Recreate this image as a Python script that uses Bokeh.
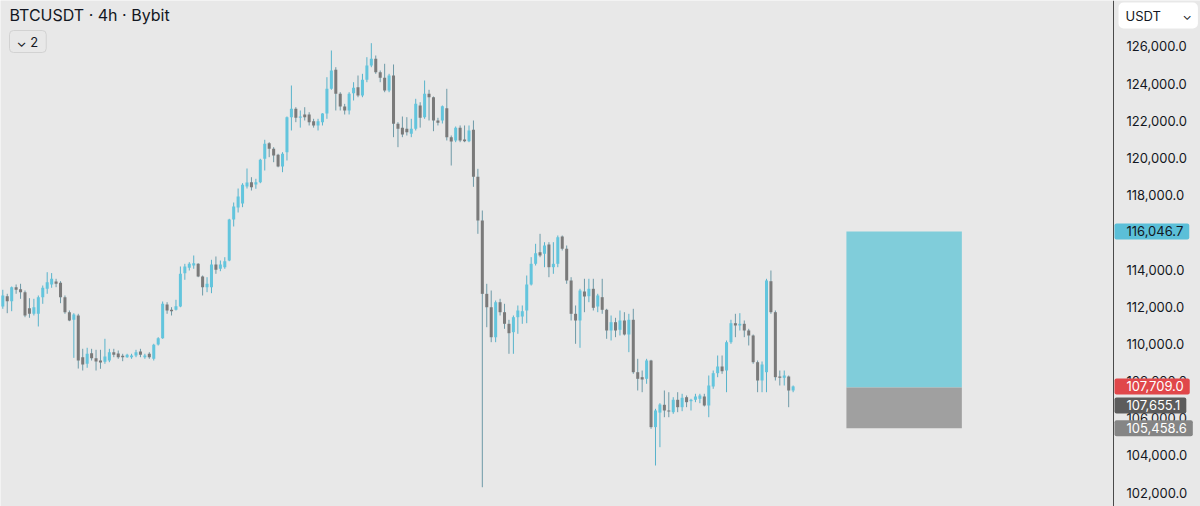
from bokeh.plotting import figure
from bokeh.models import Range1d, FixedTicker, NumeralTickFormatter, Label, ColumnDataSource, LinearAxis
from bokeh.embed import file_html
from bokeh.resources import INLINE

# ---- candle data (BTCUSDT 4h, Bybit) ----
opens = [112009, 112563, 112294, 113048, 112940, 112779, 111918, 111616, 111616, 112510,
         112962, 113193, 113354, 113284, 112510, 111703, 111293, 111525, 109281, 108926,
         109496, 109227, 109103, 109033, 109103, 109549, 109480, 109356, 109281, 109281,
         109372, 109588, 109281, 109464, 109195, 109965, 110304, 112117, 111830, 111830,
         112009, 113801, 114091, 114215, 114306, 113623, 113048, 113048, 114269, 114038,
         114124, 114484, 116691, 117336, 117551, 118466, 118698, 118574, 118698, 119957,
         120797, 120496, 120173, 119543, 120312, 122196, 122647, 122163, 122341, 122341,
         121981, 121750, 121927, 122395, 123723, 124746, 123454, 122771, 122556, 123486,
         123810, 123363, 124208, 124978, 125338, 124617, 124316, 123632, 124439, 121840,
         121625, 121571, 121302, 121571, 122825, 122196, 123454, 123271, 122018, 122018,
         122680, 121120, 120942, 121625, 120996, 120904, 121518, 118986, 116637, 112690,
         111969, 110355, 112240, 111703, 111078, 110627, 111434, 111470, 111794, 113193,
         114307, 114931, 114844, 115346, 114124, 114306, 115777, 115115, 113408, 111616,
         111256, 112816, 112564, 112961, 112009, 112510, 111832, 110718, 111165, 110756,
         111256, 110503, 111294, 108474, 108206, 108118, 109103, 105518, 106300, 106720,
         106413, 106322, 106989, 106591, 107129, 106913, 106989, 107042, 107166, 106682,
         107704, 108420, 108780, 108565, 110088, 111111, 110987, 111077, 110718, 110449,
         109012, 108027, 108474, 113370, 111703, 108242, 108172, 108242, 107489]
highs = [112908, 112693, 113085, 113193, 113231, 112870, 112456, 112423, 112601, 113139,
         113855, 113807, 113500, 113370, 112601, 111794, 111648, 111616, 109733, 109787,
         109733, 109679, 109679, 110271, 109733, 109733, 109641, 109464, 109464, 109464,
         109679, 109733, 109464, 109549, 110002, 110357, 112278, 112241, 111971, 112370,
         114162, 114306, 114393, 114754, 114339, 113677, 113586, 114522, 114700, 114484,
         114662, 116728, 117605, 118358, 118644, 119435, 118967, 118881, 119957, 120980,
         120851, 120582, 120226, 120312, 122233, 123901, 122734, 122556, 122734, 122464,
         122109, 122109, 122410, 124347, 125785, 124886, 123540, 122913, 123540, 124078,
         124439, 124530, 125424, 126178, 125516, 124708, 125069, 124530, 125032, 121927,
         122233, 122196, 122109, 123185, 123002, 124170, 123670, 123309, 122163, 122825,
         123723, 121211, 121695, 121750, 121750, 121750, 122018, 119418, 117175, 113230,
         112870, 112332, 112423, 112154, 111293, 111525, 112063, 112063, 113677, 114664,
         115383, 115920, 115470, 115470, 115470, 115830, 115830, 115292, 113586, 112063,
         112961, 113500, 113500, 113500, 112693, 113500, 111885, 111525, 111400, 111794,
         111703, 111616, 111885, 109194, 108565, 109194, 109141, 106504, 106806, 107489,
         107397, 107129, 107397, 107312, 107220, 107042, 107312, 107312, 107312, 108296,
         108565, 109372, 109372, 110180, 111294, 111616, 111650, 111256, 110809, 110503,
         109103, 109050, 113500, 113946, 111794, 108565, 108565, 108296, 107758]
lows = [111885, 111649, 111756, 112693, 112423, 111433, 111401, 111525, 110933, 112154,
        112693, 113016, 113048, 112187, 111616, 111218, 109246, 108670, 108565, 108711,
        109103, 108565, 108657, 108926, 109012, 109281, 109195, 109066, 109248, 109195,
        109281, 109281, 109195, 109195, 109103, 109911, 110271, 111616, 111525, 111794,
        111971, 113446, 113946, 114038, 113586, 112601, 112779, 112725, 113768, 113908,
        114038, 114446, 116314, 117067, 117353, 118358, 118251, 118342, 118644, 119327,
        120043, 119774, 119500, 119236, 119865, 121480, 121927, 121634, 122018, 121750,
        121634, 121480, 121750, 122109, 123670, 122556, 122556, 122341, 122341, 123094,
        123271, 123271, 124078, 124886, 124530, 124078, 123540, 123540, 121120, 120582,
        121120, 121211, 121120, 121480, 121634, 122109, 122018, 121442, 121750, 121857,
        120942, 119596, 120851, 120851, 120851, 120851, 118449, 115920, 102283, 110895,
        110088, 110088, 111525, 110808, 109464, 109464, 110540, 111078, 111110, 113139,
        114215, 114662, 114124, 113586, 113768, 114124, 115023, 113230, 111256, 110002,
        109787, 111703, 112240, 111794, 111703, 111616, 110271, 110180, 110358, 110449,
        110449, 109551, 108387, 107489, 107397, 107849, 105428, 103453, 104438, 106052,
        106052, 106235, 106322, 106376, 106591, 106413, 106860, 106806, 106628, 106052,
        107580, 108205, 108387, 107397, 110002, 110358, 110718, 110358, 109911, 108926,
        107397, 107397, 107397, 111616, 108027, 107758, 107758, 106591, 107397]
closes = [112601, 112294, 113048, 112908, 112779, 111525, 111616, 111971, 112510, 113016,
          113317, 113500, 113231, 112510, 111703, 111256, 111578, 109100, 108888, 109464,
          109227, 109049, 108995, 109318, 109549, 109410, 109281, 109281, 109410, 109373,
          109549, 109410, 109372, 109281, 109949, 110304, 112154, 111794, 111758, 112026,
          113768, 114161, 114306, 114339, 113623, 113048, 113231, 114269, 113984, 114269,
          114446, 116691, 117390, 117928, 118557, 118682, 118429, 118698, 119903, 120765,
          120496, 120135, 119543, 120226, 122196, 122647, 122163, 122233, 122196, 121927,
          121750, 121981, 122395, 123723, 124708, 123454, 122771, 122556, 123454, 123777,
          123363, 124208, 124978, 125338, 124617, 124316, 123632, 124439, 121840, 121571,
          121265, 121388, 121571, 122916, 122163, 123454, 123271, 122018, 121894, 122787,
          121120, 120888, 121625, 120942, 120904, 121480, 118986, 116637, 112690, 111969,
          110355, 112240, 111703, 111078, 110572, 111434, 111794, 111756, 113193, 114306,
          114877, 114754, 115292, 114123, 114306, 115740, 115115, 113408, 111616, 111256,
          112870, 112547, 112961, 111939, 112601, 111832, 110718, 111165, 110718, 111256,
          110503, 111294, 108474, 108118, 108081, 109103, 105518, 106413, 106736, 106413,
          106359, 106989, 106591, 107097, 106860, 106989, 107166, 107220, 106682, 107758,
          108420, 108780, 108527, 110088, 111111, 110987, 111077, 110718, 110449, 109012,
          108027, 108888, 113408, 111703, 108206, 108172, 108296, 107489, 107709]

price_ticks = [102000, 104000, 106000, 108000, 110000, 112000, 114000,
               116000, 118000, 120000, 122000, 124000, 126000]

# long position tool
tp_price = 116046.7
entry_price = 107655.1
sl_price = 105458.6
last_price = 107709.0
pos_start, pos_end = 190, 216

UP = "#63c5dd"
DOWN = "#7a7a7a"
WICK_UP = "#58b3cb"
WICK_DOWN = "#6e9aa7"
BG = "#e8e8e8"
TXT = "#131722"
FONT = "Inter"

idx = list(range(len(opens)))
up_i = [i for i in idx if closes[i] >= opens[i]]
dn_i = [i for i in idx if closes[i] < opens[i]]


def src(ids):
    return ColumnDataSource(dict(
        x=ids,
        o=[opens[i] for i in ids],
        h=[highs[i] for i in ids],
        l=[lows[i] for i in ids],
        c=[closes[i] for i in ids],
        top=[max(opens[i], closes[i]) for i in ids],
        bot=[min(opens[i], closes[i]) for i in ids],
    ))


s_up = src(up_i)
s_dn = src(dn_i)

W, H = 1200, 506
AXIS_PX = 1113                       # pixel column of the price-scale separator
X0, X1 = -0.518, 269.75              # bar-index range across the whole canvas
x_sep = X0 + (X1 - X0) * AXIS_PX / W

p = figure(width=W, height=H, output_backend="svg", toolbar_location=None,
           x_range=Range1d(X0, X1), y_range=Range1d(101247, 128475),
           x_axis_location=None, y_axis_location=None,
           min_border_left=0, min_border_right=0, min_border_top=0, min_border_bottom=0,
           background_fill_color=BG, border_fill_color=BG, outline_line_color=None)
p.grid.visible = False

# position box
p.quad(left=[pos_start], right=[pos_end], bottom=[entry_price], top=[tp_price],
       fill_color="#80cdda", line_color=None)
p.quad(left=[pos_start], right=[pos_end], bottom=[sl_price], top=[entry_price],
       fill_color="#a0a0a0", line_color=None)

# candles
p.segment(x0="x", y0="l", x1="x", y1="h", source=s_up, line_color=WICK_UP, line_width=1)
p.segment(x0="x", y0="l", x1="x", y1="h", source=s_dn, line_color=WICK_DOWN, line_width=1)
p.vbar(x="x", width=0.68, top="top", bottom="bot", source=s_up, fill_color=UP, line_color=None)
p.vbar(x="x", width=0.68, top="top", bottom="bot", source=s_dn, fill_color=DOWN, line_color=None)

# right price scale (drawn at a fixed location inside the canvas)
ax = LinearAxis(fixed_location=x_sep)
ax.ticker = FixedTicker(ticks=price_ticks)
ax.formatter = NumeralTickFormatter(format="0,0.0")
ax.major_label_text_font_size = "13px"
ax.major_label_text_font = FONT
ax.major_label_text_color = TXT
ax.axis_line_color = "#4a4a4a"
ax.major_tick_line_color = None
ax.minor_tick_line_color = None
ax.major_tick_out = 0
ax.major_tick_in = 0
ax.major_label_standoff = 13
p.add_layout(ax, "right")


def tag(price, bg, fg, yoff=0):
    p.add_layout(Label(x=AXIS_PX + 1, x_units="screen", y=price, y_units="data", y_offset=yoff,
                       text=f"{price:,.1f}", text_baseline="middle", text_align="left",
                       text_font=FONT, text_font_size="13px", text_color=fg,
                       background_fill_color=bg, border_radius=2,
                       padding=dict(left=12, right=6, top=3, bottom=3)))


tag(tp_price, "#5bbfd8", TXT)
tag(last_price, "#e0474a", "white")
tag(entry_price, "#5c5c5c", "white", yoff=-18)
tag(sl_price, "#858585", "white")

# header texts
p.add_layout(Label(x=9, y=H - 14, x_units="screen", y_units="screen",
                   text="BTCUSDT · 4h · Bybit", text_baseline="middle",
                   text_font=FONT, text_font_size="16px", text_color=TXT))
p.add_layout(Label(x=9, y=H - 41, x_units="screen", y_units="screen",
                   text="⌄ 2", text_baseline="middle", text_font=FONT,
                   text_font_size="13px", text_color=TXT,
                   border_line_color="#d2d2d2", border_radius=4,
                   padding=dict(left=7, right=8, top=3, bottom=3)))
p.add_layout(Label(x=1118, y=H - 15, x_units="screen", y_units="screen",
                   text="USDT", text_baseline="middle", text_font=FONT,
                   text_font_size="13px", text_color=TXT,
                   background_fill_color="white", border_radius=5,
                   padding=dict(left=7, right=37, top=5, bottom=5)))
p.add_layout(Label(x=1182, y=H - 15, x_units="screen", y_units="screen",
                   text="⌄", text_baseline="middle", text_font=FONT,
                   text_font_size="12px", text_color=TXT))

open("out.html", "w").write(file_html(p, INLINE))
